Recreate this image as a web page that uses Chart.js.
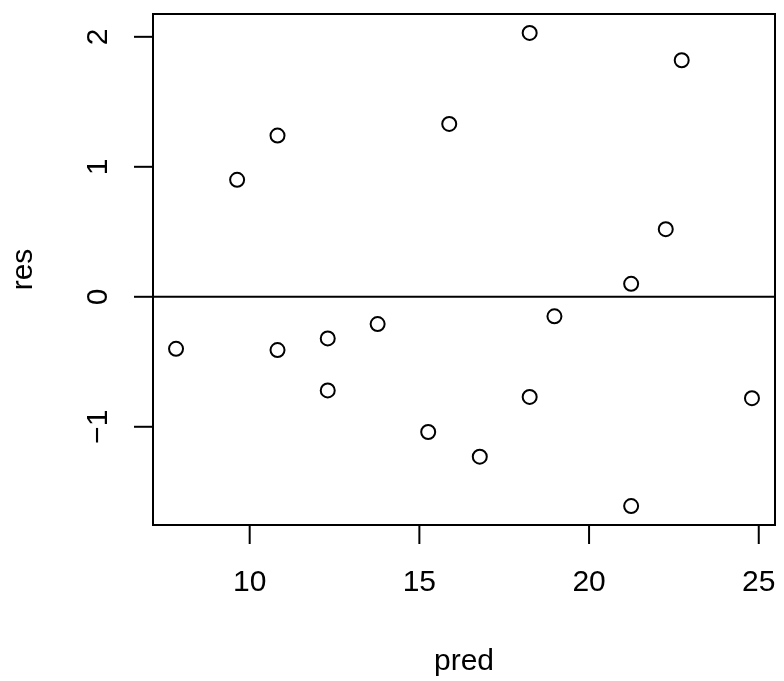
<!DOCTYPE html>
<html>
<head>
<meta charset="utf-8">
<script src="https://cdn.jsdelivr.net/npm/chart.js@4"></script>
<style>
  html, body { margin: 0; padding: 0; background: #fff; }
  canvas { display: block; }
</style>
</head>
<body>
<canvas id="resChart" width="784" height="681"></canvas>
<script>
// fitted values vs residuals
const pred = [7.83, 9.63, 10.82, 10.82, 12.30, 12.30, 13.77, 15.26, 15.88, 16.78, 18.25, 18.25, 18.98, 21.24, 21.24, 22.26, 22.73, 24.80];
const res = [-0.40, 0.90, 1.24, -0.41, -0.32, -0.72, -0.21, -1.04, 1.33, -1.23, 2.03, -0.77, -0.15, 0.10, -1.61, 0.52, 1.82, -0.78];
const xTicks = [10, 15, 20, 25];
const yTicks = [-1, 0, 1, 2];
const xLabel = 'pred';
const yLabel = 'res';

// R style 4% axis extension
function padRange(vals) {
    const lo = Math.min(...vals), hi = Math.max(...vals);
    const p = (hi - lo) * 0.04;
    return [lo - p, hi + p];
}
const [xMin, xMax] = padRange(pred);
const [yMin, yMax] = padRange(res);

const points = pred.map((x, i) => ({ x: x, y: res[i] }));

const FONT = '30px "Liberation Sans", Arial, sans-serif';
const LW = 2;

// draws box, ticks, labels and the h=0 line like base R
const baseAxes = {
    id: 'baseAxes',
    beforeDatasetsDraw(chart) {
        const c = chart.ctx;
        const a = chart.chartArea;
        const ys = chart.scales.y;
        c.save();
        c.strokeStyle = '#000';
        c.lineWidth = LW;
        // abline(h = 0)
        const y0 = ys.getPixelForValue(0);
        c.beginPath();
        c.moveTo(a.left, y0);
        c.lineTo(a.right, y0);
        c.stroke();
        c.restore();
    },
    afterDraw(chart) {
        const c = chart.ctx;
        const a = chart.chartArea;
        const xs = chart.scales.x, ys = chart.scales.y;
        const tick = 19;
        c.save();
        c.strokeStyle = '#000';
        c.fillStyle = '#000';
        c.lineWidth = LW;
        c.strokeRect(a.left, a.top, a.right - a.left, a.bottom - a.top);

        c.font = FONT;
        // x axis
        c.textAlign = 'center';
        c.textBaseline = 'alphabetic';
        xTicks.forEach(t => {
            const px = xs.getPixelForValue(t);
            c.beginPath();
            c.moveTo(px, a.bottom);
            c.lineTo(px, a.bottom + tick);
            c.stroke();
            c.fillText(String(t), px, 591);
        });
        c.fillText(xLabel, (a.left + a.right) / 2, 670);

        // y axis, labels parallel to axis
        yTicks.forEach(t => {
            const py = ys.getPixelForValue(t);
            c.beginPath();
            c.moveTo(a.left, py);
            c.lineTo(a.left - tick, py);
            c.stroke();
            c.save();
            c.translate(107, py);
            c.rotate(-Math.PI / 2);
            c.fillText(t < 0 ? '\u2212' + Math.abs(t) : String(t), 0, 0);
            c.restore();
        });
        c.save();
        c.translate(32, (a.top + a.bottom) / 2);
        c.rotate(-Math.PI / 2);
        c.fillText(yLabel, 0, 0);
        c.restore();
        c.restore();
    }
};

const ctx = document.getElementById('resChart').getContext('2d');
new Chart(ctx, {
    type: 'scatter',
    data: {
        datasets: [{
            label: 'res',
            data: points,
            pointStyle: 'circle',
            pointRadius: 7,
            pointHoverRadius: 7,
            pointBorderWidth: 2,
            pointBorderColor: '#000',
            pointBackgroundColor: 'rgba(0,0,0,0)'
        }]
    },
    options: {
        responsive: false,
        animation: false,
        events: [],
        layout: { padding: { left: 153, top: 14, right: 5, bottom: 156 } },
        plugins: { legend: { display: false }, tooltip: { enabled: false } },
        scales: {
            x: { type: 'linear', min: xMin, max: xMax, display: false },
            y: { type: 'linear', min: yMin, max: yMax, display: false }
        }
    },
    plugins: [baseAxes]
});
</script>
</body>
</html>
